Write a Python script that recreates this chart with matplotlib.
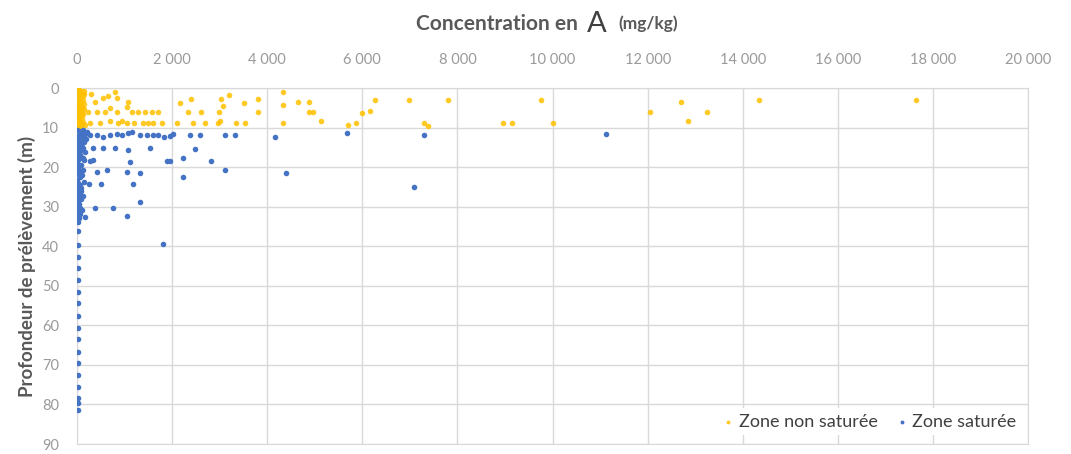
import matplotlib.pyplot as plt
import numpy as np
from matplotlib.ticker import FuncFormatter

# Zone non saturée : concentration (mg/kg) / profondeur (m)
unsat_conc = [
    # colonne proche de 0
    10, 40, 80, 20, 60, 100, 30, 70, 15, 50, 90, 25, 65, 110, 5, 45, 85, 35,
    75, 120, 10, 55, 95, 30, 70, 20, 60, 100, 40, 80, 15, 50, 90, 25, 130,
    140, 120, 150, 10, 30, 130, 110, 160, 5, 140,
    # 0 - 2 000
    150, 300, 380, 550, 650, 800, 840, 1070, 230, 420, 590, 690, 840, 1050,
    1160, 1280, 1430, 1580, 1700, 270, 480, 690, 860, 950, 1050, 1200, 1390,
    1490, 1600, 1790,
    # 2 000 - 4 000
    2170, 2400, 2330, 2610, 2690, 2440, 2100, 3030, 3200, 3070, 2990, 2960,
    3010, 3510, 3530, 3340, 3800, 3800,
    # au-delà de 4 000
    4330, 4330, 4330, 4650, 4880, 4880, 4960, 5130, 5700, 5870, 5990, 6160,
    6270, 6980, 7800, 7300, 7380, 8950, 9150, 9750, 10000, 12050, 12700,
    12850, 13250, 14350, 17650,
]
unsat_depth = [
    0.3, 0.5, 0.8, 1.2, 1.5, 1.8, 2.2, 2.5, 2.9, 3.2, 3.6, 4.0, 4.3, 4.7, 5.0,
    5.3, 5.6, 6.0, 6.3, 6.6, 7.0, 7.3, 7.6, 8.0, 8.3, 8.6, 8.9, 9.2, 9.5, 9.8,
    1.0, 3.8, 6.8, 9.0, 2.0,
    0.8, 3.0, 5.2, 4.5, 7.8, 8.6, 6.2, 9.4, 6.5, 1.6,
    4.0, 1.5, 3.5, 2.5, 2.0, 1.0, 2.5, 3.5, 6.1, 6.1, 6.1, 5.1, 6.1, 4.8,
    6.1, 6.1, 6.1, 6.1, 6.1, 8.8, 8.8, 8.3, 8.8, 8.3, 8.8, 8.8, 8.8,
    8.8, 8.8, 8.8,
    3.8, 2.8, 6.1, 6.1, 8.8, 8.8, 8.8, 2.8, 1.8, 4.6, 6.1, 8.8,
    8.3, 3.8, 8.8, 8.8, 2.8, 6.1,
    1.0, 4.3, 8.8, 3.5, 3.5, 6.1, 6.1, 8.3, 9.4, 8.8, 6.3, 5.8,
    3.0, 3.0, 3.0, 8.8, 9.5, 8.8, 8.8, 3.0, 8.8, 6.0, 3.5,
    8.3, 6.0, 3.0, 3.0,
]

# Zone saturée : concentration (mg/kg) / profondeur (m)
sat_conc = [
    # colonne proche de 0
    10, 40, 80, 120, 160, 200, 60, 20, 100, 140, 30, 70, 110, 15, 50, 90,
    20, 60, 10, 40, 130, 25, 5, 45, 15, 35, 20, 55, 10, 30, 15, 40, 10, 25,
    20, 5, 15, 30, 10, 20, 5, 15,
    180, 220, 150, 90, 130, 170, 60, 110, 140, 80, 120, 60, 100, 150, 70,
    90, 50, 120, 80, 40, 60, 100, 70, 50, 90,
    # 10 - 40 m
    270, 420, 550, 690, 840, 950, 1070, 1160, 1330, 1470, 1600, 1700, 1830,
    1950, 2020, 2380, 2590, 3110, 3320, 4160, 5680, 7300, 11120,
    340, 550, 800, 1070, 1540, 2480,
    270, 340, 1120, 1890, 1960, 2230, 2820,
    420, 630, 1050, 1330, 3110, 4390, 2230,
    250, 510, 1180, 7090, 1320,
    380, 760, 170, 1050, 1810,
    # colonne profonde
    20, 20, 20, 20, 20, 20, 20, 20, 20, 20, 20, 20, 20, 20, 20, 20, 20,
]
sat_depth = [
    10.5, 10.8, 11.2, 10.6, 11.5, 11.0, 11.8, 12.2, 12.0, 12.5, 13.0, 13.4,
    13.8, 14.2, 14.6, 15.0, 15.5, 16.0, 16.6, 17.2, 17.8, 18.3, 19.0, 19.6,
    20.3, 21.0, 21.6, 22.4, 23.2, 24.0, 24.8, 25.6, 26.3, 27.0, 27.6, 28.3,
    29.0, 29.8, 30.6, 31.5, 32.5, 33.8,
    12.8, 11.4, 13.6, 14.4, 15.1, 16.2, 17.0, 17.6, 18.2, 19.4, 20.8, 21.4,
    22.0, 23.8, 24.5, 26.0, 26.8, 27.4, 28.1, 29.4, 30.2, 30.8, 31.8, 32.8,
    25.2,
    11.9, 11.9, 12.4, 11.9, 11.6, 11.9, 11.4, 11.1, 11.9, 11.9, 11.9, 11.9, 12.4,
    12.2, 11.6, 11.9, 11.9, 11.9, 11.9, 12.4, 11.4, 11.9, 11.6,
    15.2, 15.2, 15.2, 15.6, 15.2, 15.4,
    18.4, 18.2, 18.7, 18.4, 18.4, 17.7, 18.4,
    21.2, 20.7, 21.2, 21.5, 20.7, 21.5, 22.6,
    24.3, 24.3, 24.3, 25.0, 28.8,
    30.3, 30.3, 32.6, 32.4, 39.4,
    36.2, 39.6, 42.7, 45.5, 48.5, 51.6, 54.3, 57.6, 60.7, 63.4, 66.7,
    69.5, 72.5, 75.6, 78.4, 79.6, 81.5,
]

x_ticks = np.arange(0, 20001, 2000)
y_ticks = np.arange(0, 91, 10)

plt.rcParams["font.family"] = ["Lato", "DejaVu Sans"]

fig = plt.figure(figsize=(10.71, 4.54), dpi=100)
ax = fig.add_axes([0.0719, 0.022, 0.888, 0.784])

ax.scatter(unsat_conc, unsat_depth, s=16, color="#FFC000", alpha=0.85,
           linewidths=0, label="Zone non saturée", zorder=3)
ax.scatter(sat_conc, sat_depth, s=16, color="#4472C4",
           linewidths=0, label="Zone saturée", zorder=3)

ax.set_xlim(0, 20000)
ax.set_ylim(90, 0)
ax.set_xticks(x_ticks)
ax.set_yticks(y_ticks)
ax.xaxis.set_major_formatter(
    FuncFormatter(lambda v, _: f"{int(v):,}".replace(",", " ")))
ax.xaxis.tick_top()
ax.tick_params(axis="both", length=0, labelsize=10.5, labelcolor="#9a9a9a")
ax.tick_params(axis="x", pad=15)
ax.tick_params(axis="y", pad=13)

ax.grid(True, color="#d9d9d9", linewidth=1)
ax.set_axisbelow(True)
for sp in ax.spines.values():
    sp.set_color("#d9d9d9")

ax.set_ylabel("Profondeur de prélèvement (m)", fontsize=13.5, fontweight="bold",
              color="#595959", labelpad=4)

# titre en trois morceaux, le « A » plus grand
fig.text(578 / 1071, 1 - 24 / 454, "Concentration en", ha="right",
         va="center", fontsize=15, fontweight="bold", color="#595959")
fig.text(597 / 1071, 1 - 24 / 454, "A", ha="center", va="center",
         fontsize=21, color="#404040")
fig.text(618 / 1071, 1 - 24 / 454, "(mg/kg)", ha="left", va="center",
         fontsize=12.5, fontweight="bold", color="#595959")

leg = ax.legend(loc="lower right", ncol=2, fontsize=13, frameon=True,
                fancybox=False, edgecolor="none", facecolor="white",
                framealpha=1, handlelength=0.8, handletextpad=0.2,
                columnspacing=0.9, markerscale=0.7, borderpad=0.3,
                bbox_to_anchor=(1.003, 0.0))
for t in leg.get_texts():
    t.set_color("#404040")

fig.savefig("out.png", dpi=100)
